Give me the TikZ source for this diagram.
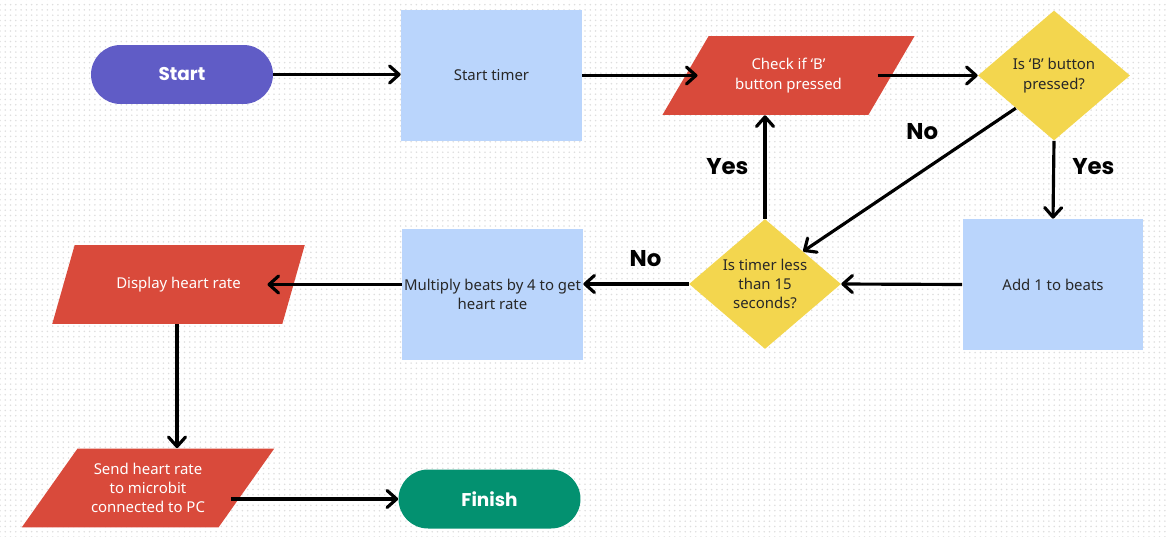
\documentclass[tikz,border=0pt]{standalone}
\usepackage{fontspec}
\setmainfont{Noto Sans}
\newfontfamily\branchfont{Poppins}
\usetikzlibrary{arrows.meta,positioning,shapes.geometric,calc,patterns}
\definecolor{termPurple}{RGB}{96,92,198}
\definecolor{termGreen}{RGB}{3,145,112}
\definecolor{procBlue}{RGB}{186,213,252}
\definecolor{ioRed}{RGB}{217,74,59}
\definecolor{decYellow}{RGB}{243,214,78}
\definecolor{inkDark}{RGB}{40,40,40}
\definecolor{gridDot}{RGB}{222,222,222}
\tikzset{
  terminal node/.style={rectangle,rounded corners=0.59cm,minimum width=3.64cm,minimum height=1.18cm,inner sep=0pt,text=white,font=\branchfont\fontsize{10.5}{13}\selectfont\bfseries},
  process node/.style={rectangle,fill=procBlue,minimum width=3.62cm,minimum height=2.62cm,inner sep=0pt,align=center,text=inkDark,font=\fontsize{8.5}{11}\selectfont},
  io node/.style={trapezium,trapezium left angle=48,trapezium right angle=132,trapezium stretches=true,fill=ioRed,minimum width=5.06cm,minimum height=1.58cm,inner sep=0pt,align=center,text=white,font=\fontsize{8.5}{11}\selectfont},
  decision node/.style={diamond,aspect=1.17,fill=decYellow,minimum width=3.04cm,minimum height=2.6cm,inner sep=0pt,align=center,text=inkDark,font=\fontsize{8.5}{11}\selectfont},
  flow arrow/.style={-{Straight Barb[length=1.9mm,width=3.4mm,round]},line width=1.8pt,draw=black},
  branch label/.style={inner sep=0pt,text=black,font=\branchfont\fontsize{13}{15}\selectfont\bfseries}
}
\begin{document}
\begin{tikzpicture}[x=0.02cm,y=-0.02cm]
  \useasboundingbox (0,0) rectangle (1169,537);
  \fill[pattern=dots,pattern color=gridDot] (0,0) rectangle (1169,537);
  \node[terminal node,fill=termPurple] (start) at (182,74.5) {Start};
  \node[process node] (timer) at (491.5,75.5) {Start timer};
  \node[io node] (check) at (788.5,75.5) {Check if ‘B’\\button pressed};
  \node[decision node] (pressed) at (1054,75.5) {Is ‘B’ button\\pressed?};
  \node[process node] (beats) at (1053,284.5) {Add 1 to beats};
  \node[decision node] (less) at (765,284) {Is timer less\\than 15\\seconds?};
  \node[process node] (multiply) at (492.5,294.5) {Multiply beats by 4 to get\\heart rate};
  \node[io node] (display) at (178.5,284.5) {Display heart rate};
  \node[io node] (send) at (148,488) {Send heart rate\\to microbit\\connected to PC};
  \node[terminal node,fill=termGreen] (finish) at (489.5,499) {Finish};
  \coordinate (check in) at ($(check.center)+(-91,0)$);
  \coordinate (check out) at ($(check.center)+(89,0)$);
  \coordinate (display in) at ($(display.center)+(89,0)$);
  \coordinate (send out) at ($(send.center)+(83,11)$);
  \draw[flow arrow] (start.east) -- (start.east -| timer.west);
  \draw[flow arrow] (timer.east |- check in) -- (check in);
  \draw[flow arrow] (check out) -- (pressed.west);
  \draw[flow arrow] (pressed.south) -- node[branch label,pos=0.33,right=0.34cm] {Yes} (beats.north);
  \draw[flow arrow] (beats.west) -- (less.east);
  \draw[flow arrow] (pressed.south west) -- node[branch label,pos=0.44,yshift=0.79cm] {No} (less.north east);
  \draw[flow arrow] (less.north) -- node[branch label,pos=0.5,left=0.3cm] {Yes} (less.north |- check.south);
  \draw[flow arrow] (less.west) -- node[branch label,pos=0.41,yshift=0.5cm] {No} (less.west -| multiply.east);
  \draw[flow arrow] (multiply.west |- display in) -- (display in);
  \draw[flow arrow] (display.south -| 177,0) -- (send.north -| 177,0);
  \draw[flow arrow] (send out) -- (send out -| finish.west);
\end{tikzpicture}
\end{document}
